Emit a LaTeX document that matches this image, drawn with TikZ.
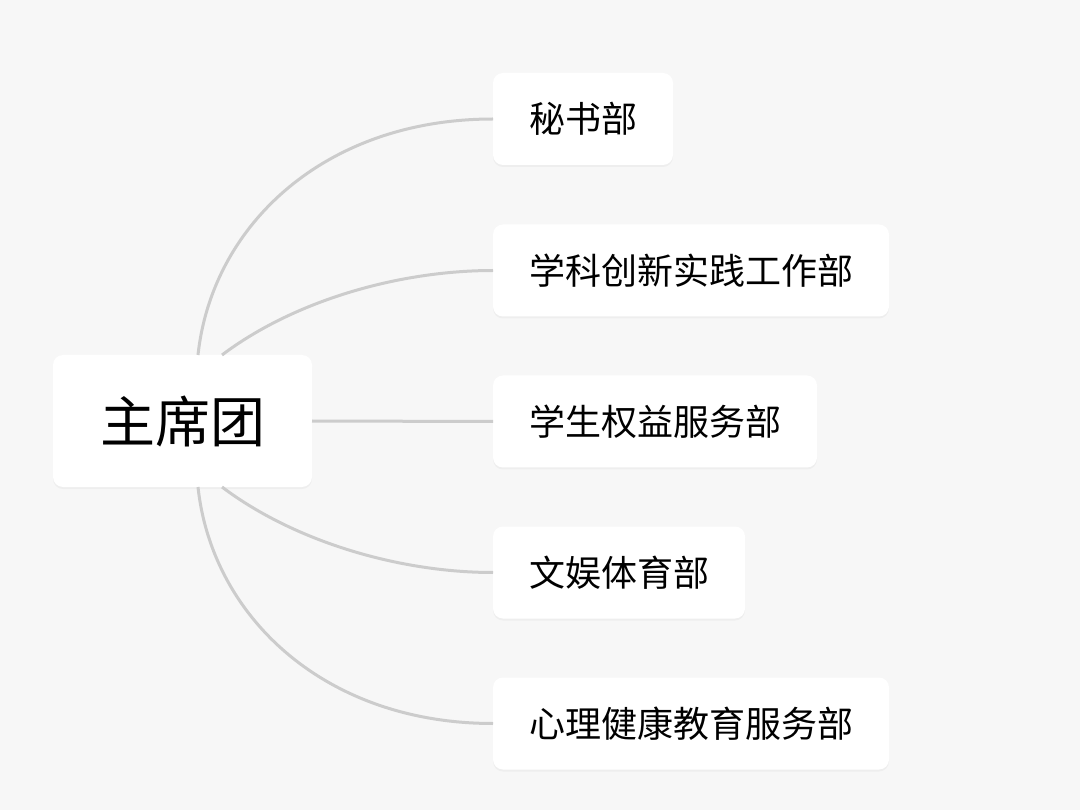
\documentclass[tikz,border=0pt]{standalone}
\usepackage{fontspec}
\setmainfont{Noto Sans CJK SC}
\usetikzlibrary{shadows}
\definecolor{bg}{HTML}{F7F7F7}
\definecolor{edge}{HTML}{CCCCCC}
\tikzset{
  box/.style={fill=white, rounded corners=10pt, draw=none,
    drop shadow={opacity=0.07, shadow xshift=0pt, shadow yshift=-2pt},
    inner ysep=0pt, outer sep=0pt, align=center},
  rootbox/.style={box, minimum width=259pt, minimum height=132pt,
    font=\fontsize{55}{60}\selectfont},
  childbox/.style={box, anchor=west, inner xsep=36pt, minimum height=92pt,
    font=\fontsize{36}{40}\selectfont},
  link/.style={draw=edge, line width=3pt}
}
\begin{document}
\begin{tikzpicture}[x=1pt,y=-1pt]
\fill[bg] (0,0) rectangle (1080,810);
\useasboundingbox (0,0) rectangle (1080,810);
\node[rootbox] (root) at (182.5,421) {主席团};
\node[childbox] (c1) at (493,119) {秘书部};
\node[childbox] (c2) at (493,270.5) {学科创新实践工作部};
\node[childbox] (c3) at (493,421.5) {学生权益服务部};
\node[childbox] (c4) at (493,572.5) {文娱体育部};
\node[childbox] (c5) at (493,723.5) {心理健康教育服务部};
\begin{scope}[on background layer/.try]
\end{scope}
\path[link] (root.north west) ++(145,0) coordinate (r1)
  .. controls (212,225) and (325,119) .. (c1.west);
\path[link] (root.north west) ++(169,0) coordinate (r2)
  .. controls (295,300) and (400,270.5) .. (c2.west);
\path[link] (root.east) -- (c3.west);
\path[link] (root.south west) ++(169,0) coordinate (r4)
  .. controls (295,542) and (400,572.5) .. (c4.west);
\path[link] (root.south west) ++(145,0) coordinate (r5)
  .. controls (212,617) and (325,723.5) .. (c5.west);
\end{tikzpicture}
\end{document}
